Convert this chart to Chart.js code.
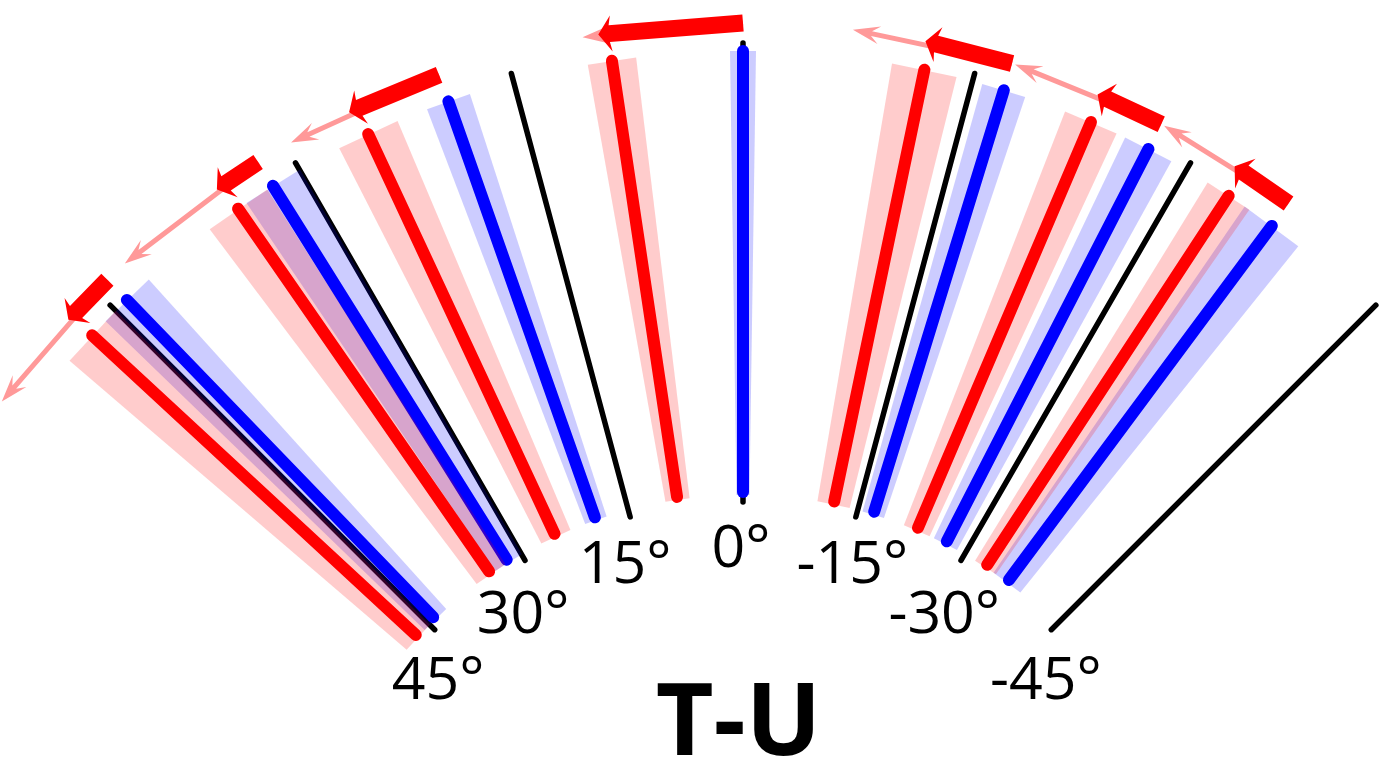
<!DOCTYPE html>
<html>
<head>
<meta charset="utf-8">
<title>T-U</title>
<script src="https://cdn.jsdelivr.net/npm/chart.js@4.4.0/dist/chart.umd.min.js"></script>
<style>
  html, body { margin: 0; padding: 0; background: #fff; overflow: hidden; }
  #wrap { width: 1379px; height: 761px; }
</style>
</head>
<body>
<div id="wrap"><canvas id="fanChart" width="1379" height="761"></canvas></div>
<script>
// reference directions (deg, positive = counter-clockwise from vertical)
const tickAngles = [45, 30, 15, 0, -15, -30, -45];
const tickLabels = ['45°', '30°', '15°', '0°', '-15°', '-30°', '-45°'];
const chartTitle = 'T-U';

// measured directions, blue = start, red = after step
const blueAngles = [44.0, 32.0, 19.4, 0.0, -17.1, -27.2, -36.6];
const blueSpread = [1.94, 2.04, 1.47, 0.84, 1.45, 1.68, 2.16];
const redAngles = [47.2, 34.7, 25.0, 8.5, -11.8, -23.1, -33.2];
const redSpread = [2.2, 2.26, 2.08, 1.58, 2.13, 1.81, 1.61];

// arrow tips: measured step (red) and predicted step (pink), both starting at blue
const stepTips = [47.5, 35.1, 25.5, 9.1, -11.5, -22.8, -32.5];
const predTips = [54.1, 42.5, 29.6, 10.1, -6.9, -17.3, -27.4];

// layout (pixels from fan centre)
const centre = { x: 743, y: 938 };
const rayInner = 446;
const rayOuter = 887;
const refInner = 436;
const refOuter = 895;
const arrowRadius = 915;
const labelAngle = [49.5, 34.0, 17.4, 0.3, -16.2, -31.7, -49.4];
const labelRadius = [401, 393, 394, 392, 392, 383, 399];
const titlePos = { x: -4.5, y: 183 };

const RED = '#ff0000';
const BLUE = '#0000ff';
const PINK = '#ff9999';
const RED_BAND = 'rgba(255, 0, 0, 0.2)';
const BLUE_BAND = 'rgba(0, 0, 255, 0.2)';

function polar(r, deg) {
  const a = (deg * Math.PI) / 180;
  return { x: -r * Math.sin(a), y: r * Math.cos(a) };
}

function ray(angle, r1, r2) {
  return [polar(r1, angle), polar(r2, angle)];
}

function wedge(angle, spread, r1, r2) {
  return [
    polar(r1, angle - spread),
    polar(r2, angle - spread),
    polar(r2, angle + spread),
    polar(r1, angle + spread),
    polar(r1, angle - spread),
  ];
}

function arrowShape(a1, a2, r, shaft, head, headLen, neck) {
  const p1 = polar(r, a1);
  const p2 = polar(r, a2);
  const dx = p2.x - p1.x;
  const dy = p2.y - p1.y;
  const len = Math.hypot(dx, dy);
  const ux = dx / len;
  const uy = dy / len;
  const nx = -uy;
  const ny = ux;
  const at = (s, t) => ({ x: p2.x + ux * s + nx * t, y: p2.y + uy * s + ny * t });
  return [
    at(-len, shaft / 2),
    at(-neck, shaft / 2),
    at(-headLen, head),
    at(0, 0),
    at(-headLen, -head),
    at(-neck, -shaft / 2),
    at(-len, -shaft / 2),
    at(-len, shaft / 2),
  ];
}

function lineSet(data, color, width, order) {
  return {
    data,
    borderColor: color,
    borderWidth: width,
    borderCapStyle: 'round',
    fill: false,
    order,
  };
}

function shapeSet(data, color, order) {
  return {
    data,
    borderColor: 'rgba(0,0,0,0)',
    borderWidth: 0,
    backgroundColor: color,
    fill: 'shape',
    order,
  };
}

const datasets = [];
tickAngles.forEach((a) => datasets.push(lineSet(ray(a, refInner, refOuter), '#000', 5.5, 60)));
blueAngles.forEach((a, i) => datasets.push(shapeSet(wedge(a, blueSpread[i], rayInner - 3, rayOuter), BLUE_BAND, 50)));
blueAngles.forEach((a) => datasets.push(lineSet(ray(a, rayInner, rayOuter), BLUE, 12, 40)));
redAngles.forEach((a, i) => datasets.push(shapeSet(wedge(a, redSpread[i], rayInner - 3, rayOuter), RED_BAND, 30)));
redAngles.forEach((a) => datasets.push(lineSet(ray(a, rayInner, rayOuter), RED, 12, 20)));
blueAngles.forEach((a, i) => datasets.push(shapeSet(arrowShape(a, predTips[i], arrowRadius, 5, 9, 27, 19), PINK, 10)));
blueAngles.forEach((a, i) => datasets.push(shapeSet(arrowShape(a, stepTips[i], arrowRadius, 17, 18, 13, 11), RED, 0)));

const labelPlugin = {
  id: 'fanLabels',
  afterDatasetsDraw(chart) {
    const { ctx } = chart;
    const { x, y } = chart.scales;
    ctx.save();
    ctx.fillStyle = '#000';
    ctx.textAlign = 'center';
    ctx.textBaseline = 'alphabetic';
    ctx.font = '59px "Open Sans"';
    tickLabels.forEach((text, i) => {
      const p = polar(labelRadius[i], labelAngle[i]);
      ctx.fillText(text, x.getPixelForValue(p.x), y.getPixelForValue(p.y) + 21);
    });
    ctx.font = 'bold 100px "Open Sans"';
    ctx.fillText(chartTitle, x.getPixelForValue(titlePos.x), y.getPixelForValue(titlePos.y));
    ctx.restore();
  },
};

const ctx = document.getElementById('fanChart').getContext('2d');
new Chart(ctx, {
  type: 'line',
  data: { datasets },
  options: {
    responsive: false,
    animation: false,
    events: [],
    layout: { padding: 0 },
    elements: {
      point: { radius: 0, hoverRadius: 0 },
      line: { tension: 0 },
    },
    scales: {
      x: { type: 'linear', display: false, min: -centre.x, max: 1379 - centre.x },
      y: { type: 'linear', display: false, min: centre.y - 761, max: centre.y },
    },
    plugins: {
      legend: { display: false },
      tooltip: { enabled: false },
    },
  },
  plugins: [labelPlugin],
});
</script>
</body>
</html>
